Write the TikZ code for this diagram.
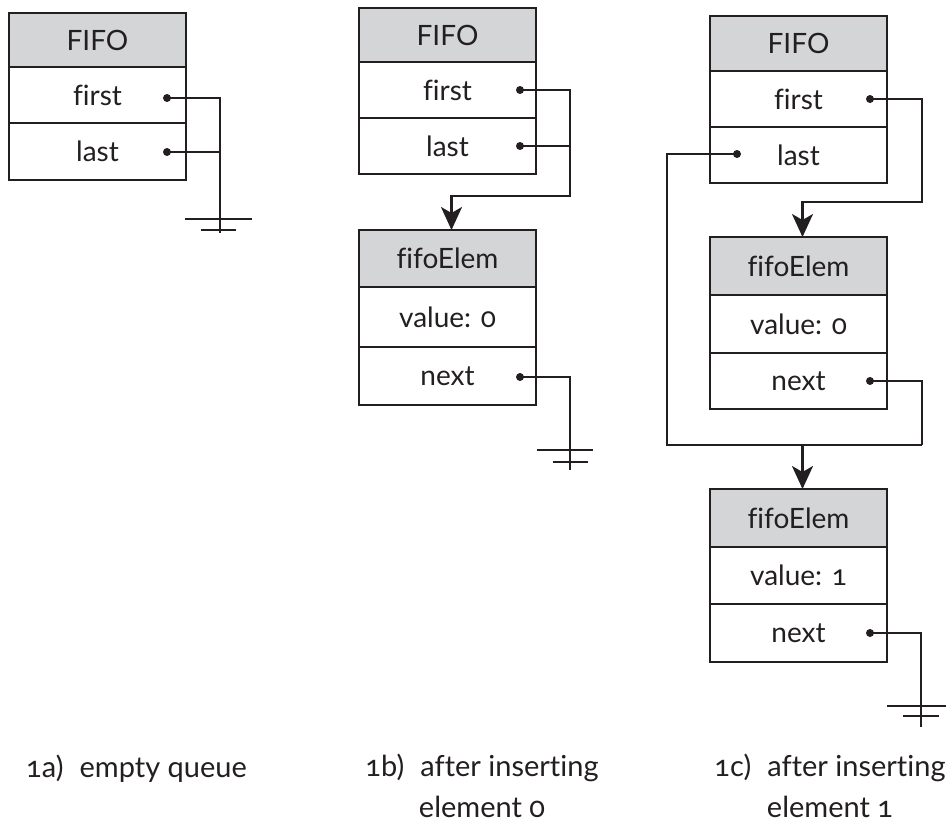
\documentclass[tikz,border=0pt]{standalone}
\usepackage{fontspec}
\setmainfont{Lato}[Numbers=OldStyle,Ligatures=NoCommon]
\usetikzlibrary{arrows.meta}
\definecolor{hdr}{RGB}{212,213,214}
\definecolor{ink}{RGB}{35,31,32}
\begin{document}
\begin{tikzpicture}[x=1pt,y=-1pt,
  cell/.style={draw=ink, text=ink, line width=2.6pt, anchor=north west, outer sep=0pt, minimum width=177pt, inner sep=0pt, font=\fontsize{28}{34}\selectfont},
  hcell/.style={cell, fill=hdr},
  dot/.style={circle, fill=ink, inner sep=0pt, minimum size=8pt},
  wire/.style={draw=ink, line width=2.4pt},
  arr/.style={wire, -{Stealth[length=23pt,width=21pt,inset=6pt]}},
  captext/.style={text=ink, align=center, inner sep=0pt, font=\fontsize{29}{41}\selectfont}]
\useasboundingbox (0,0) rectangle (946,820);

% ---------- panel a ----------
\node[hcell, minimum height=54pt] (aH) at (9,13) {FIFO};
\node[cell, minimum height=56pt] (aF) at (aH.south west) {first};
\node[cell, minimum height=57pt] (aL) at (aF.south west) {last};
\node[dot] (a1d) at (167,98) {};
\node[dot] (a2d) at (167,152) {};
\coordinate (ag) at (220,233);
\draw[wire] (a1d.center) -| (ag);
\draw[wire] (a2d.center) -- (a2d.center -| ag);
\draw[wire] (ag) ++(-35,-14) -- ++(67,0);
\draw[wire] (ag) ++(-19,-3) -- ++(35,0);

% ---------- panel b ----------
\node[hcell, minimum height=54pt] (bH) at (359,8) {FIFO};
\node[cell, minimum height=56pt] (bF) at (bH.south west) {first};
\node[cell, minimum height=56pt] (bL) at (bF.south west) {last};
\node[hcell, minimum height=57pt] (bEh) at (359,230) {fifoElem};
\node[cell, minimum height=60pt] (bEv) at (bEh.south west) {value: 0};
\node[cell, minimum height=58pt] (bEn) at (bEv.south west) {next};
\node[dot] (b1d) at (520,90) {};
\node[dot] (b2d) at (520,146) {};
\node[dot] (b3d) at (520,377) {};
\coordinate (bturn) at (570,196);
\coordinate (bg) at (570,470);
\draw[arr] (b1d.center) -| (bturn) -| ([xshift=4pt]bEh.north);
\draw[wire] (b2d.center) -- (b2d.center -| bturn);
\draw[wire] (b3d.center) -| (bg);
\draw[wire] (bg) ++(-33,-20) -- ++(56,0);
\draw[wire] (bg) ++(-17,-8) -- ++(35,0);

% ---------- panel c ----------
\node[hcell, minimum height=55pt] (cH) at (710,16) {FIFO};
\node[cell, minimum height=56pt] (cF) at (cH.south west) {first};
\node[cell, minimum height=56pt] (cL) at (cF.south west) {last};
\node[hcell, minimum height=58pt] (cE1h) at (710,237) {fifoElem};
\node[cell, minimum height=58pt] (cE1v) at (cE1h.south west) {value: 0};
\node[cell, minimum height=56pt] (cE1n) at (cE1v.south west) {next};
\node[hcell, minimum height=58pt] (cE2h) at (710,489) {fifoElem};
\node[cell, minimum height=57pt] (cE2v) at (cE2h.south west) {value: 1};
\node[cell, minimum height=58pt] (cE2n) at (cE2v.south west) {next};
\node[dot] (c1d) at (870,99) {};
\node[dot] (c2d) at (737,154) {};
\node[dot] (c3d) at (870,381) {};
\node[dot] (c4d) at (870,633) {};
\coordinate (cturn) at (922,202);
\coordinate (cLft) at (667,445);
\coordinate (cRgt) at (922,445);
\coordinate (cg) at (921,727);
\draw[arr] (c1d.center) -| (cturn) -| ([xshift=4pt]cE1h.north);
\draw[wire] (c2d.center) -| (cLft) -- (cRgt);
\draw[wire] (c3d.center) -| (cRgt);
\draw[arr] ([xshift=4pt]cE2h.north |- cRgt) -- ([xshift=4pt]cE2h.north);
\draw[wire] (c4d.center) -| (cg);
\draw[wire] (cg) ++(-34,-21) -- ++(70,0);
\draw[wire] (cg) ++(-18,-11) -- ++(36,0);

% ---------- captions ----------
\node[captext, anchor=base west] (capA) at (26,777) {1a)\hspace{.3em} empty queue};
\node[captext, anchor=base] (capB) at (482,817) {1b)\hspace{.3em} after inserting\\ element 0};
\node[captext, anchor=base] (capC) at (830,817) {1c)\hspace{.3em} after inserting\\ element 1};
\end{tikzpicture}
\end{document}
